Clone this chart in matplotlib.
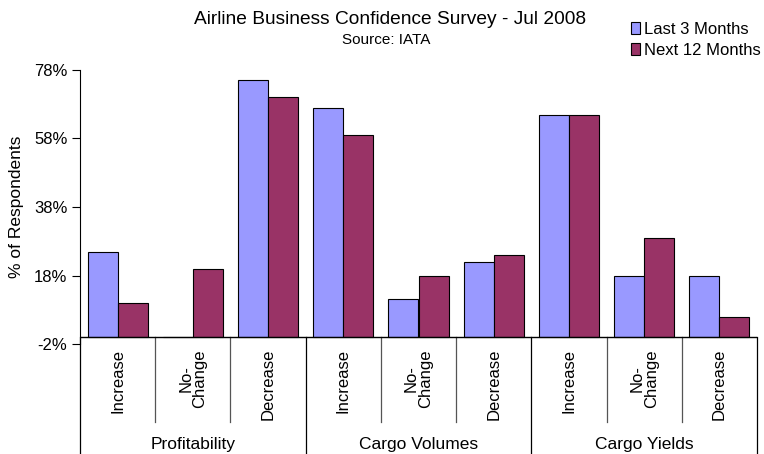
import matplotlib
matplotlib.use("Agg")
import matplotlib.pyplot as plt
import matplotlib.transforms as mtransforms
import numpy as np

plt.rcParams['font.family'] = ['Liberation Sans', 'DejaVu Sans']

categories = ["Increase", "No-\nChange", "Decrease",
              "Increase", "No-\nChange", "Decrease",
              "Increase", "No-\nChange", "Decrease"]
groups = ["Profitability", "Cargo Volumes", "Cargo Yields"]
last_3_months = [25, 0, 75, 67, 11, 22, 65, 18, 18]
next_12_months = [10, 20, 70, 59, 18, 24, 65, 29, 6]
yticks = [-2, 18, 38, 58, 78]
ytick_labels = ["-2%", "18%", "38%", "58%", "78%"]

W, H = 764, 454
fig = plt.figure(figsize=(W / 100, H / 100), dpi=100)

def fy(py):
    return 1 - py / H

def fx(px):
    return px / W

left, right, top, bottom = 80, 757, 70, 344
ax = fig.add_axes([fx(left), fy(bottom), fx(right) - fx(left), fy(top) - fy(bottom)])

x = np.arange(len(categories))
bw = 0.4
ax.bar(x - bw / 2, last_3_months, bw, color="#9999FF", edgecolor="black", linewidth=0.8,
       label="Last 3 Months", zorder=3)
ax.bar(x + bw / 2, next_12_months, bw, color="#993366", edgecolor="black", linewidth=0.8,
       label="Next 12 Months", zorder=3)

ax.set_xlim(-0.5, len(categories) - 0.5)
ax.set_ylim(-2, 78)
ax.set_yticks(yticks)
ax.set_yticklabels(ytick_labels, fontsize=12)
ax.tick_params(axis='y', direction='out', length=6, width=0.8, colors='black', pad=3)
ax.set_xticks([])
for s in ["top", "right", "bottom"]:
    ax.spines[s].set_visible(False)
ax.spines["left"].set_linewidth(0.8)
ax.axhline(0, color="black", linewidth=1, zorder=4)
ax.set_ylabel("% of Respondents", fontsize=12.5, labelpad=7)

trans = mtransforms.blended_transform_factory(ax.transData, fig.transFigure)
y0 = fy(337)
# separators
for i in range(len(categories) + 1):
    xv = i - 0.5
    if i % 3 == 0:
        yb = fy(454)
        lc = "black"
    else:
        yb = fy(422)
        lc = "#555555"
    ax.plot([xv, xv], [y0, yb], transform=trans, color=lc, linewidth=0.9, clip_on=False)

for i, c in enumerate(categories):
    ax.text(i, fy(349), c, transform=trans, rotation=90, ha="center", va="top",
            multialignment="center", fontsize=12, linespacing=0.95)

for g, name in enumerate(groups):
    ax.text(g * 3 + 1, fy(444), name, transform=trans, ha="center", va="center", fontsize=12.5)

fig.text(fx(390), fy(19), "Airline Business Confidence Survey - Jul 2008",
         ha="center", va="center", fontsize=13.8)
fig.text(fx(386), fy(40), "Source: IATA", ha="center", va="center", fontsize=11)

fig.legend(loc="upper left", bbox_to_anchor=(fx(631), fy(22)), frameon=False,
           fontsize=12, handlelength=0.55, handleheight=0.7, handletextpad=0.25,
           labelspacing=0.35, borderaxespad=0, borderpad=0)

fig.savefig("out.png", dpi=100)
